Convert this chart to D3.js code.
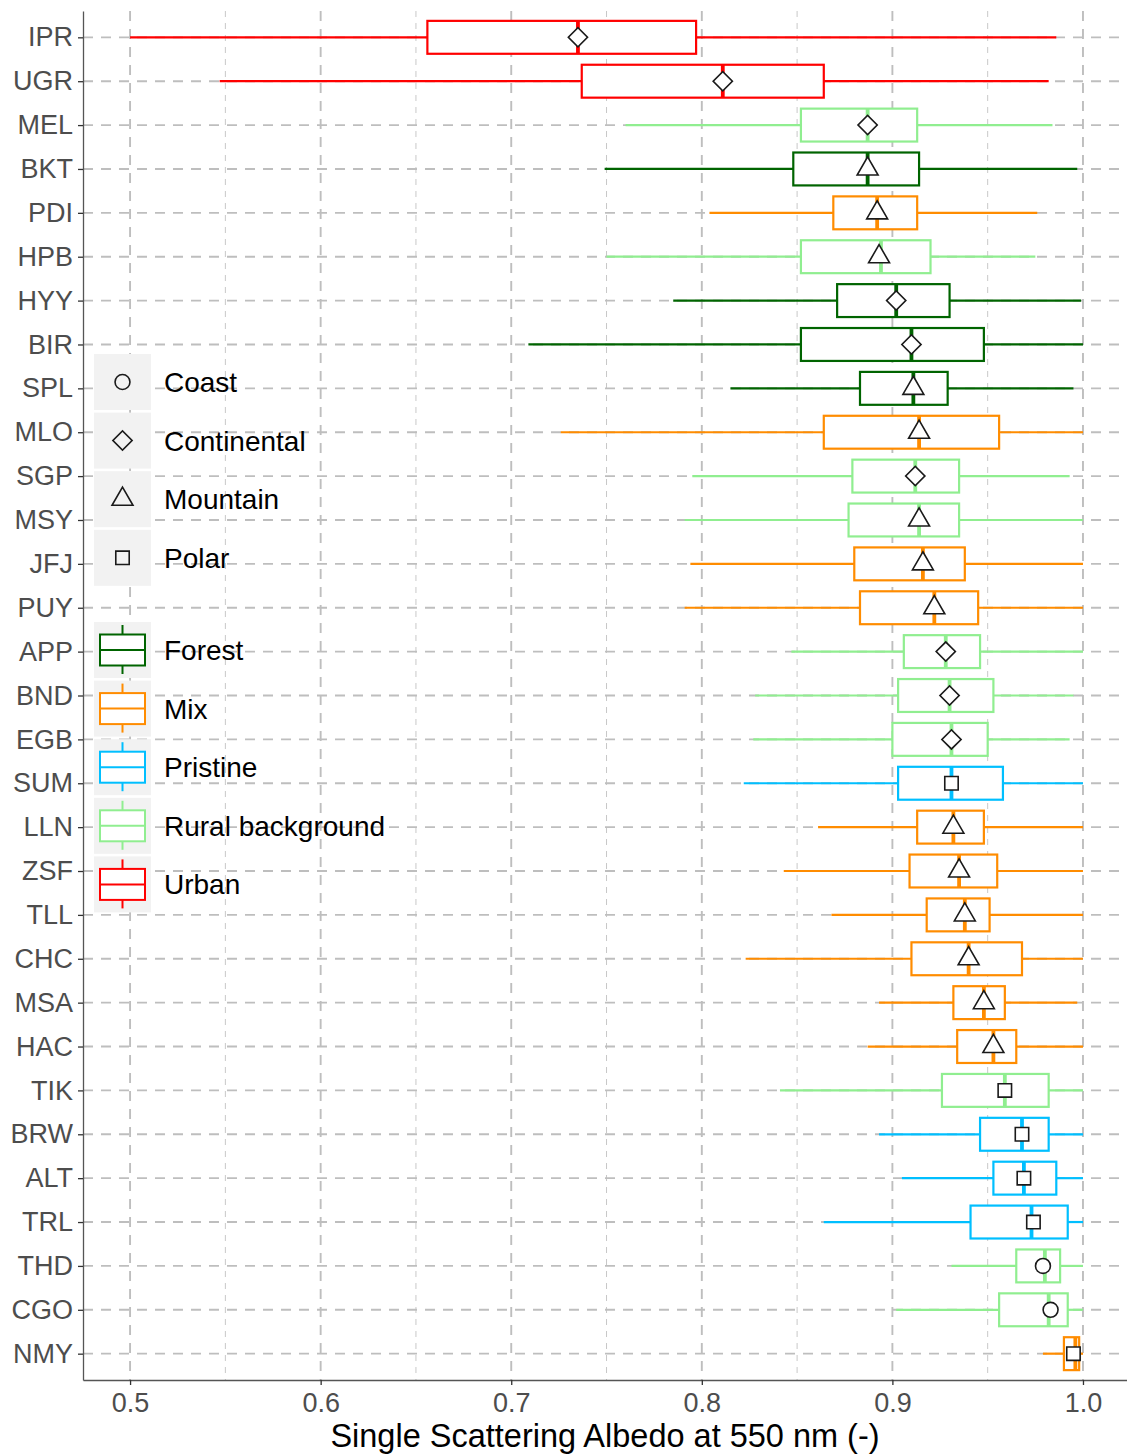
<!DOCTYPE html>
<html>
<head>
<meta charset="utf-8">
<script src="https://cdn.jsdelivr.net/npm/d3@7"></script>
<style>
  body { margin: 0; background: #fff; }
  svg text { font-family: "Liberation Sans", Arial, Helvetica, sans-serif; }
</style>
</head>
<body>
<div id="wrapper"></div>
<script>
// 1. Data (top row first)

const stations = ['IPR', 'UGR', 'MEL', 'BKT', 'PDI', 'HPB', 'HYY', 'BIR', 'SPL', 'MLO',
  'SGP', 'MSY', 'JFJ', 'PUY', 'APP', 'BND', 'EGB', 'SUM', 'LLN', 'ZSF', 'TLL', 'CHC',
  'MSA', 'HAC', 'TIK', 'BRW', 'ALT', 'TRL', 'THD', 'CGO', 'NMY'];

const surface = ['Urban', 'Urban', 'Rural background', 'Forest', 'Mix', 'Rural background',
  'Forest', 'Forest', 'Forest', 'Mix', 'Rural background', 'Rural background', 'Mix', 'Mix',
  'Rural background', 'Rural background', 'Rural background', 'Pristine', 'Mix', 'Mix', 'Mix',
  'Mix', 'Mix', 'Mix', 'Rural background', 'Pristine', 'Pristine', 'Pristine',
  'Rural background', 'Rural background', 'Mix'];

const region = ['Continental', 'Continental', 'Continental', 'Mountain', 'Mountain', 'Mountain',
  'Continental', 'Continental', 'Mountain', 'Mountain', 'Continental', 'Mountain', 'Mountain',
  'Mountain', 'Continental', 'Continental', 'Continental', 'Polar', 'Mountain', 'Mountain',
  'Mountain', 'Mountain', 'Mountain', 'Mountain', 'Polar', 'Polar', 'Polar', 'Polar',
  'Coast', 'Coast', 'Polar'];

const whiskerLow = [0.500, 0.547, 0.760, 0.749, 0.804, 0.750, 0.785, 0.709, 0.815, 0.726,
  0.795, 0.791, 0.794, 0.791, 0.847, 0.828, 0.827, 0.822, 0.861, 0.843, 0.868, 0.823,
  0.893, 0.887, 0.841, 0.893, 0.905, 0.864, 0.931, 0.902, 0.979];
const q1 = [0.656, 0.737, 0.852, 0.848, 0.869, 0.852, 0.871, 0.852, 0.883, 0.864,
  0.879, 0.877, 0.880, 0.883, 0.906, 0.903, 0.900, 0.903, 0.913, 0.909, 0.918, 0.910,
  0.932, 0.934, 0.926, 0.946, 0.953, 0.941, 0.965, 0.956, 0.990];
const median = [0.735, 0.811, 0.887, 0.887, 0.892, 0.894, 0.902, 0.910, 0.911, 0.914,
  0.912, 0.914, 0.916, 0.922, 0.928, 0.930, 0.931, 0.931, 0.932, 0.935, 0.938, 0.940,
  0.948, 0.953, 0.959, 0.968, 0.969, 0.973, 0.980, 0.982, 0.996];
const q3 = [0.797, 0.864, 0.913, 0.914, 0.913, 0.920, 0.930, 0.948, 0.929, 0.956,
  0.935, 0.935, 0.938, 0.945, 0.946, 0.953, 0.950, 0.958, 0.948, 0.955, 0.951, 0.968,
  0.959, 0.965, 0.982, 0.982, 0.986, 0.992, 0.988, 0.992, 0.998];
const whiskerHigh = [0.986, 0.982, 0.984, 0.997, 0.976, 0.975, 0.999, 1.000, 0.995, 1.000,
  0.993, 1.000, 1.000, 1.000, 1.000, 0.995, 0.993, 1.000, 1.000, 1.000, 1.000, 1.000,
  0.997, 1.000, 1.000, 1.000, 1.000, 1.000, 1.000, 1.000, 1.000];
const meanVal = [0.735, 0.811, 0.887, 0.887, 0.892, 0.893, 0.902, 0.910, 0.911, 0.914,
  0.912, 0.914, 0.916, 0.922, 0.928, 0.930, 0.931, 0.931, 0.932, 0.935, 0.938, 0.940,
  0.948, 0.953, 0.959, 0.968, 0.969, 0.974, 0.979, 0.983, 0.995];

const surfaceTypes = ['Forest', 'Mix', 'Pristine', 'Rural background', 'Urban'];
const surfaceColors = ['#006400', '#ff8c00', '#00bfff', '#90ee90', '#ff0000'];
const regionTypes = ['Coast', 'Continental', 'Mountain', 'Polar'];

const xMajorTicks = [0.5, 0.6, 0.7, 0.8, 0.9, 1.0];
const xMinorTicks = [0.55, 0.65, 0.75, 0.85, 0.95];

const dataset = stations.map((s, i) => ({
  station: s,
  surface: surface[i],
  region: region[i],
  lo: whiskerLow[i], q1: q1[i], med: median[i], q3: q3[i], hi: whiskerHigh[i],
  mean: meanVal[i],
}));

// 2. Dimensions

let dimensions = {
  width: 1127,
  height: 1456,
  margin: { top: 11, right: 0, bottom: 76, left: 83 },
};
dimensions.boundedWidth = dimensions.width - dimensions.margin.left - dimensions.margin.right;
dimensions.boundedHeight = dimensions.height - dimensions.margin.top - dimensions.margin.bottom;

// 3. Canvas

const wrapper = d3.select('#wrapper')
  .append('svg')
  .attr('width', dimensions.width)
  .attr('height', dimensions.height);

const bounds = wrapper.append('g')
  .attr('transform', `translate(${dimensions.margin.left},${dimensions.margin.top})`);

// 4. Scales

const xScale = d3.scaleLinear()
  .domain([0.4753, 1.0231])
  .range([0, dimensions.boundedWidth]);

const yScale = d3.scalePoint()
  .domain(stations)
  .range([0, dimensions.boundedHeight])
  .padding(0.6);

const colorScale = d3.scaleOrdinal().domain(surfaceTypes).range(surfaceColors);

const shapeScale = d3.scaleOrdinal()
  .domain(regionTypes)
  .range([
    { type: d3.symbolCircle, size: 175, rot: 0 },
    { type: d3.symbolSquare, size: 185, rot: 45 },
    { type: d3.symbolTriangle, size: 190, rot: 0 },
    { type: d3.symbolSquare, size: 180, rot: 0 },
  ]);

const symbolPath = (r) => d3.symbol().type(shapeScale(r).type).size(shapeScale(r).size)();

const boxH = yScale.step() * 0.75;

// 5. Grid

const grid = bounds.append('g');
grid.selectAll('.minor')
  .data(xMinorTicks)
  .join('line')
  .attr('x1', (d) => xScale(d)).attr('x2', (d) => xScale(d))
  .attr('y1', 0).attr('y2', dimensions.boundedHeight)
  .attr('stroke', '#c8c8c8').attr('stroke-width', 1)
  .attr('stroke-dasharray', '6,6');
grid.selectAll('.major')
  .data(xMajorTicks)
  .join('line')
  .attr('x1', (d) => xScale(d)).attr('x2', (d) => xScale(d))
  .attr('y1', 0).attr('y2', dimensions.boundedHeight)
  .attr('stroke', '#bebebe').attr('stroke-width', 1.9)
  .attr('stroke-dasharray', '10,8');
grid.selectAll('.hgrid')
  .data(stations)
  .join('line')
  .attr('x1', 0).attr('x2', dimensions.boundedWidth)
  .attr('y1', (d) => yScale(d)).attr('y2', (d) => yScale(d))
  .attr('stroke', '#bebebe').attr('stroke-width', 1.9)
  .attr('stroke-dasharray', '10,8');

// 6. Boxes

const rows = bounds.selectAll('.row')
  .data(dataset)
  .join('g')
  .attr('transform', (d) => `translate(0,${yScale(d.station)})`);

rows.append('line')
  .attr('x1', (d) => xScale(d.lo)).attr('x2', (d) => xScale(d.q1))
  .attr('stroke', (d) => colorScale(d.surface)).attr('stroke-width', 2.2);
rows.append('line')
  .attr('x1', (d) => xScale(d.q3)).attr('x2', (d) => xScale(d.hi))
  .attr('stroke', (d) => colorScale(d.surface)).attr('stroke-width', 2.2);
rows.append('rect')
  .attr('x', (d) => xScale(d.q1))
  .attr('width', (d) => xScale(d.q3) - xScale(d.q1))
  .attr('y', -boxH / 2).attr('height', boxH)
  .attr('fill', '#fff')
  .attr('stroke', (d) => colorScale(d.surface)).attr('stroke-width', 2.2);
rows.append('line')
  .attr('x1', (d) => xScale(d.med)).attr('x2', (d) => xScale(d.med))
  .attr('y1', -boxH / 2).attr('y2', boxH / 2)
  .attr('stroke', (d) => colorScale(d.surface)).attr('stroke-width', 3.8);
rows.append('path')
  .attr('d', (d) => symbolPath(d.region))
  .attr('transform', (d) => `translate(${xScale(d.mean)},0) rotate(${shapeScale(d.region).rot})`)
  .attr('fill', '#fff').attr('stroke', '#1a1a1a').attr('stroke-width', 1.6);

// 7. Axes

const xAxis = bounds.append('g')
  .attr('transform', `translate(0,${dimensions.boundedHeight})`)
  .call(d3.axisBottom(xScale).tickValues(xMajorTicks).tickFormat(d3.format('.1f'))
    .tickSize(5).tickSizeOuter(0).tickPadding(8));
const yAxis = bounds.append('g')
  .call(d3.axisLeft(yScale).tickSize(5).tickSizeOuter(0).tickPadding(5));

[xAxis, yAxis].forEach((ax) => {
  ax.select('.domain').attr('stroke', '#555').attr('stroke-width', 1.3);
  ax.selectAll('.tick line').attr('stroke', '#333').attr('stroke-width', 1.3);
  ax.selectAll('.tick text')
    .attr('font-family', '"Liberation Sans", Arial, sans-serif')
    .attr('font-size', 27)
    .attr('fill', '#4d4d4d');
});

wrapper.append('text')
  .attr('x', dimensions.margin.left + dimensions.boundedWidth / 2)
  .attr('y', 1447)
  .attr('text-anchor', 'middle')
  .attr('font-size', 32.5)
  .attr('fill', '#000')
  .text('Single Scattering Albedo at 550 nm (-)');

// 8. Legends

const keyX = 94, keyW = 57, keyH = 56, keyStep = 58.6;

const shapeLegend = wrapper.append('g')
  .selectAll('g')
  .data(regionTypes)
  .join('g')
  .attr('transform', (d, i) => `translate(${keyX},${382 + i * keyStep})`);
shapeLegend.append('rect')
  .attr('x', 0).attr('y', -keyH / 2).attr('width', keyW).attr('height', keyH)
  .attr('fill', '#f2f2f2');
shapeLegend.append('path')
  .attr('d', (d) => symbolPath(d))
  .attr('transform', (d) => `translate(${keyW / 2},0) rotate(${shapeScale(d).rot})`)
  .attr('fill', 'none').attr('stroke', '#1a1a1a').attr('stroke-width', 1.6);
shapeLegend.append('text')
  .attr('x', 70).attr('y', 10)
  .attr('font-size', 28)
  .text((d) => d);

const fillLegend = wrapper.append('g')
  .selectAll('g')
  .data(surfaceTypes)
  .join('g')
  .attr('transform', (d, i) => `translate(${keyX},${650 + i * keyStep})`);
fillLegend.append('rect')
  .attr('x', 0).attr('y', -keyH / 2).attr('width', keyW).attr('height', keyH)
  .attr('fill', '#f2f2f2');
fillLegend.append('line')
  .attr('x1', keyW / 2).attr('x2', keyW / 2).attr('y1', -25).attr('y2', 24)
  .attr('stroke', (d) => colorScale(d)).attr('stroke-width', 2);
fillLegend.append('rect')
  .attr('x', 6).attr('y', -15.5).attr('width', 45).attr('height', 31)
  .attr('fill', '#fff')
  .attr('stroke', (d) => colorScale(d)).attr('stroke-width', 2);
fillLegend.append('line')
  .attr('x1', 6).attr('x2', 51).attr('y1', 0).attr('y2', 0)
  .attr('stroke', (d) => colorScale(d)).attr('stroke-width', 2);
fillLegend.append('text')
  .attr('x', 70).attr('y', 10)
  .attr('font-size', 28)
  .text((d) => d);
</script>
</body>
</html>
